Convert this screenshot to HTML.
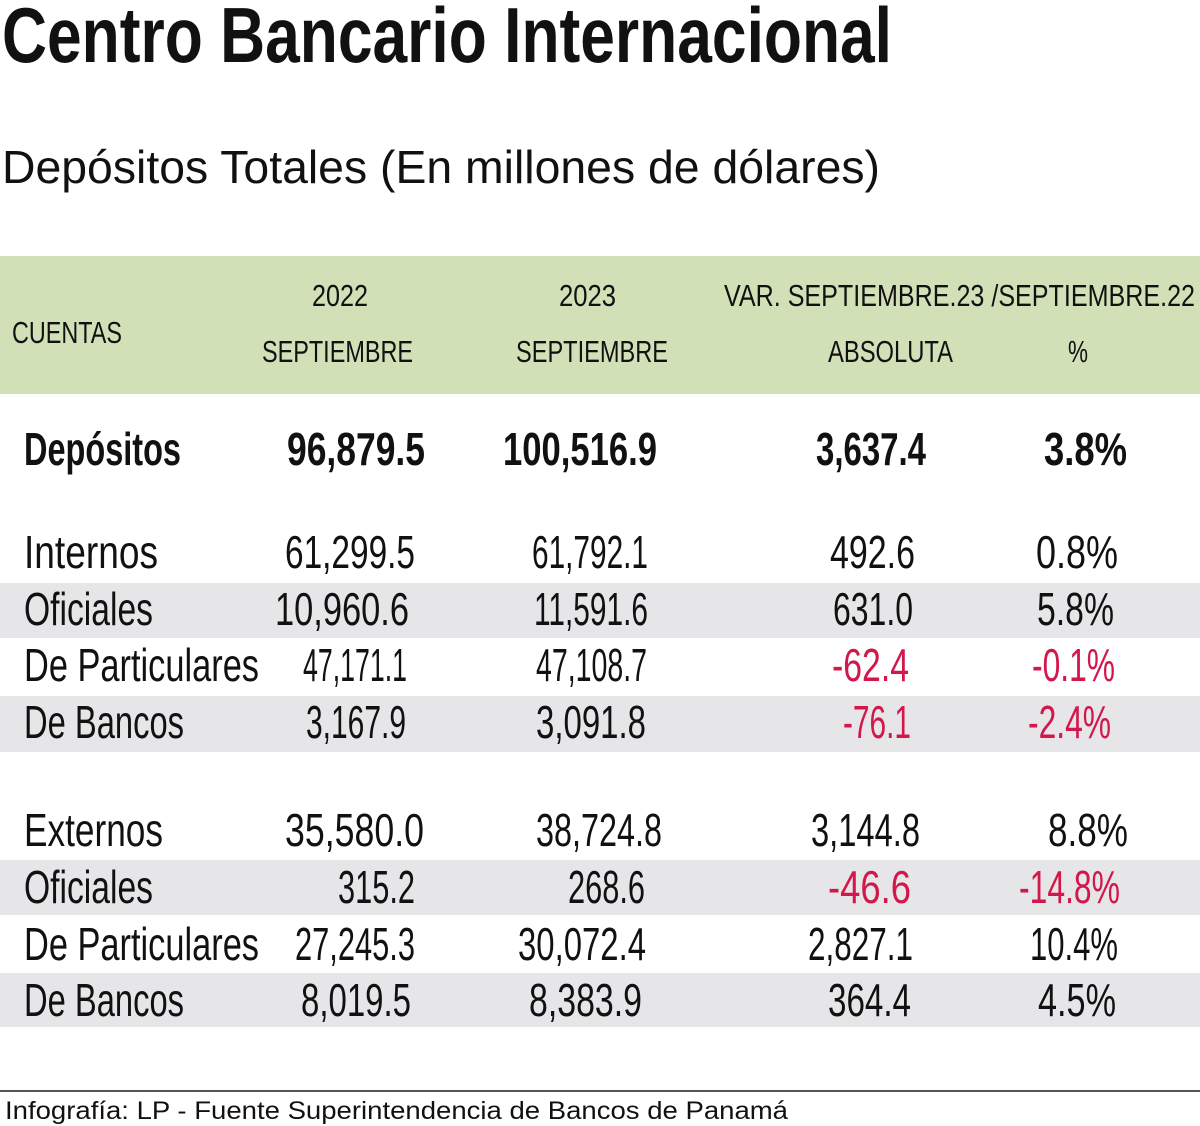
<!DOCTYPE html>
<html><head><meta charset="utf-8"><style>
html,body{margin:0;padding:0;background:#fff;}
svg{display:block;}
text{font-family:"Liberation Sans",sans-serif;fill:#111;}
.r{fill:#d3174b;}
</style></head><body>
<svg width="1200" height="1126" viewBox="0 0 1200 1126" xmlns="http://www.w3.org/2000/svg">
<text x="2" y="62" font-size="78" font-weight="bold" textLength="890" lengthAdjust="spacingAndGlyphs">Centro Bancario Internacional</text>
<text x="2" y="183" font-size="46" textLength="878" lengthAdjust="spacingAndGlyphs">Depósitos Totales (En millones de dólares)</text>

<rect x="0" y="256" width="1200" height="138" fill="#d2e0b8"/>
<g font-size="31">
<text x="12" y="343" textLength="110" lengthAdjust="spacingAndGlyphs">CUENTAS</text>
<text x="312" y="306" textLength="56" lengthAdjust="spacingAndGlyphs">2022</text>
<text x="262" y="362" textLength="151" lengthAdjust="spacingAndGlyphs">SEPTIEMBRE</text>
<text x="559" y="306" textLength="57" lengthAdjust="spacingAndGlyphs">2023</text>
<text x="516" y="362" textLength="152" lengthAdjust="spacingAndGlyphs">SEPTIEMBRE</text>
<text x="724" y="306" textLength="471" lengthAdjust="spacingAndGlyphs">VAR. SEPTIEMBRE.23 /SEPTIEMBRE.22</text>
<text x="828" y="362" textLength="125" lengthAdjust="spacingAndGlyphs">ABSOLUTA</text>
<text x="1068" y="362" textLength="20" lengthAdjust="spacingAndGlyphs">%</text>
</g>

<rect x="0" y="583" width="1200" height="55" fill="#e6e6e8"/>
<rect x="0" y="696" width="1200" height="56" fill="#e6e6e8"/>
<rect x="0" y="860" width="1200" height="55" fill="#e6e6e8"/>
<rect x="0" y="973" width="1200" height="54" fill="#e6e6e8"/>

<g font-size="46" font-weight="bold" text-anchor="end">
<text x="24" y="465" text-anchor="start" textLength="157" lengthAdjust="spacingAndGlyphs">Depósitos</text>
<text x="425" y="465" textLength="138" lengthAdjust="spacingAndGlyphs">96,879.5</text>
<text x="657" y="465" textLength="154" lengthAdjust="spacingAndGlyphs">100,516.9</text>
<text x="926" y="465" textLength="110" lengthAdjust="spacingAndGlyphs">3,637.4</text>
<text x="1127" y="465" textLength="83" lengthAdjust="spacingAndGlyphs">3.8%</text>
</g>

<g font-size="46" text-anchor="end">
<text x="24" y="568" text-anchor="start" textLength="134" lengthAdjust="spacingAndGlyphs">Internos</text>
<text x="415" y="568" textLength="130" lengthAdjust="spacingAndGlyphs">61,299.5</text>
<text x="648" y="568" textLength="116" lengthAdjust="spacingAndGlyphs">61,792.1</text>
<text x="915" y="568" textLength="85" lengthAdjust="spacingAndGlyphs">492.6</text>
<text x="1118" y="568" textLength="82" lengthAdjust="spacingAndGlyphs">0.8%</text>

<text x="24" y="625" text-anchor="start" textLength="129" lengthAdjust="spacingAndGlyphs">Oficiales</text>
<text x="409" y="625" textLength="134" lengthAdjust="spacingAndGlyphs">10,960.6</text>
<text x="648" y="625" textLength="114" lengthAdjust="spacingAndGlyphs">11,591.6</text>
<text x="913" y="625" textLength="80" lengthAdjust="spacingAndGlyphs">631.0</text>
<text x="1114" y="625" textLength="77" lengthAdjust="spacingAndGlyphs">5.8%</text>

<text x="24" y="681" text-anchor="start" textLength="235" lengthAdjust="spacingAndGlyphs">De Particulares</text>
<text x="407" y="681" textLength="104" lengthAdjust="spacingAndGlyphs">47,171.1</text>
<text x="647" y="681" textLength="111" lengthAdjust="spacingAndGlyphs">47,108.7</text>
<text class="r" x="909" y="681" textLength="77" lengthAdjust="spacingAndGlyphs">-62.4</text>
<text class="r" x="1115" y="681" textLength="83" lengthAdjust="spacingAndGlyphs">-0.1%</text>

<text x="24" y="738" text-anchor="start" textLength="160" lengthAdjust="spacingAndGlyphs">De Bancos</text>
<text x="406" y="738" textLength="100" lengthAdjust="spacingAndGlyphs">3,167.9</text>
<text x="646" y="738" textLength="110" lengthAdjust="spacingAndGlyphs">3,091.8</text>
<text class="r" x="911" y="738" textLength="68" lengthAdjust="spacingAndGlyphs">-76.1</text>
<text class="r" x="1111" y="738" textLength="83" lengthAdjust="spacingAndGlyphs">-2.4%</text>

<text x="24" y="846" text-anchor="start" textLength="139" lengthAdjust="spacingAndGlyphs">Externos</text>
<text x="424" y="846" textLength="139" lengthAdjust="spacingAndGlyphs">35,580.0</text>
<text x="662" y="846" textLength="126" lengthAdjust="spacingAndGlyphs">38,724.8</text>
<text x="920" y="846" textLength="109" lengthAdjust="spacingAndGlyphs">3,144.8</text>
<text x="1128" y="846" textLength="80" lengthAdjust="spacingAndGlyphs">8.8%</text>

<text x="24" y="903" text-anchor="start" textLength="129" lengthAdjust="spacingAndGlyphs">Oficiales</text>
<text x="415" y="903" textLength="77" lengthAdjust="spacingAndGlyphs">315.2</text>
<text x="645" y="903" textLength="77" lengthAdjust="spacingAndGlyphs">268.6</text>
<text class="r" x="911" y="903" textLength="83" lengthAdjust="spacingAndGlyphs">-46.6</text>
<text class="r" x="1120" y="903" textLength="101" lengthAdjust="spacingAndGlyphs">-14.8%</text>

<text x="24" y="960" text-anchor="start" textLength="235" lengthAdjust="spacingAndGlyphs">De Particulares</text>
<text x="415" y="960" textLength="120" lengthAdjust="spacingAndGlyphs">27,245.3</text>
<text x="646" y="960" textLength="128" lengthAdjust="spacingAndGlyphs">30,072.4</text>
<text x="913" y="960" textLength="105" lengthAdjust="spacingAndGlyphs">2,827.1</text>
<text x="1118" y="960" textLength="88" lengthAdjust="spacingAndGlyphs">10.4%</text>

<text x="24" y="1016" text-anchor="start" textLength="160" lengthAdjust="spacingAndGlyphs">De Bancos</text>
<text x="411" y="1016" textLength="110" lengthAdjust="spacingAndGlyphs">8,019.5</text>
<text x="642" y="1016" textLength="113" lengthAdjust="spacingAndGlyphs">8,383.9</text>
<text x="911" y="1016" textLength="83" lengthAdjust="spacingAndGlyphs">364.4</text>
<text x="1116" y="1016" textLength="78" lengthAdjust="spacingAndGlyphs">4.5%</text>
</g>

<rect x="0" y="1090" width="1200" height="2" fill="#555"/>
<text x="5" y="1119" font-size="25" textLength="783" lengthAdjust="spacingAndGlyphs">Infografía: LP - Fuente Superintendencia de Bancos de Panamá</text>
</svg>
</body></html>
